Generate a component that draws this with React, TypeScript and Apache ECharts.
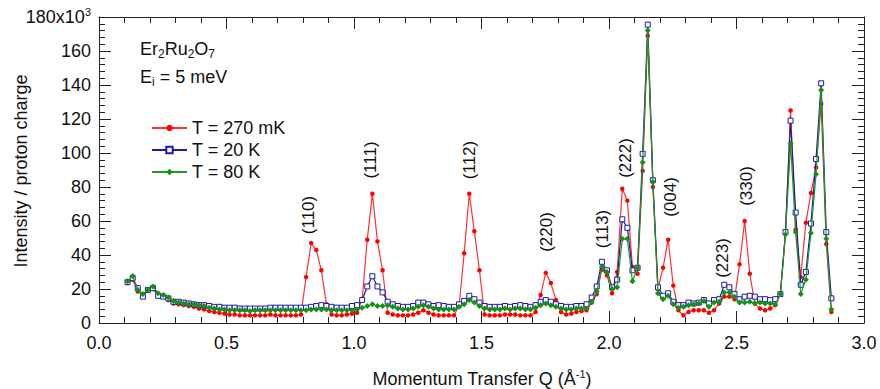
import React, { useEffect, useRef } from "react";
import * as echarts from "echarts";

// Momentum transfer grid (Å^-1)
const Q = [
  0.112, 0.132, 0.152, 0.172, 0.192, 0.212, 0.232, 0.252, 0.272, 0.292,
  0.312, 0.332, 0.352, 0.372, 0.392, 0.412, 0.432, 0.452, 0.472, 0.492,
  0.512, 0.532, 0.552, 0.572, 0.592, 0.612, 0.632, 0.652, 0.672, 0.692,
  0.712, 0.732, 0.752, 0.772, 0.792, 0.812, 0.832, 0.852, 0.872, 0.892,
  0.912, 0.932, 0.952, 0.972, 0.992, 1.012, 1.032, 1.052, 1.072, 1.092,
  1.112, 1.132, 1.152, 1.172, 1.192, 1.212, 1.232, 1.252, 1.272, 1.292,
  1.312, 1.332, 1.352, 1.372, 1.392, 1.412, 1.432, 1.452, 1.472, 1.492,
  1.512, 1.532, 1.552, 1.572, 1.592, 1.612, 1.632, 1.652, 1.672, 1.692,
  1.712, 1.732, 1.752, 1.772, 1.792, 1.812, 1.832, 1.852, 1.872, 1.892,
  1.912, 1.932, 1.952, 1.972, 1.992, 2.012, 2.032, 2.052, 2.072, 2.092,
  2.112, 2.132, 2.152, 2.172, 2.192, 2.212, 2.232, 2.252, 2.272, 2.292,
  2.312, 2.332, 2.352, 2.372, 2.392, 2.412, 2.432, 2.452, 2.472, 2.492,
  2.512, 2.532, 2.552, 2.572, 2.592, 2.612, 2.632, 2.652, 2.672, 2.692,
  2.712, 2.732, 2.752, 2.772, 2.792, 2.812, 2.832, 2.852, 2.872,
];

// Intensity / proton charge (x10^3)
const T270mK = [
  23.5, 25.5, 18.5, 17, 19, 20, 17, 15.5, 13.5, 11.5,
  11, 10.5, 10, 9.5, 8.5, 8, 7, 6.5, 6, 5.5,
  5, 5, 4.5, 4.5, 4.5, 4.5, 4.5, 4.5, 5, 4.5,
  4.5, 4.5, 4.5, 4.5, 5, 27, 47, 43, 31, 11,
  5, 4.5, 4.5, 5, 5.5, 6, 14, 49, 76, 48,
  31, 6, 5, 4.5, 4.5, 4.5, 5, 6, 7.5, 6,
  5, 4.5, 4.5, 4.5, 4.5, 10, 41, 76, 54, 31,
  5, 4.5, 4.5, 4.5, 5, 5, 5, 4.5, 4.5, 4.5,
  6.5, 16.5, 29.5, 23.5, 13.5, 6.5, 5, 5.5, 6.5, 7,
  7.5, 12, 17, 31.5, 28, 17.5, 30, 79, 72, 33,
  29, 89.5, 169, 80, 20, 32.5, 49, 22, 7.5, 4.5,
  6.5, 7.5, 7.5, 7.5, 6, 7.5, 11.5, 15.5, 15.5, 14,
  34.5, 60, 29, 11.5, 8.5, 7.5, 8.5, 10.5, 17, 52.5,
  125, 55, 27, 59, 76.5, 91.5, 129, 46.5, 6.5,
];

const T20K = [
  24, 26.5, 20.5, 15.5, 19.5, 20.5, 16, 15.5, 14.5, 12.5,
  12.5, 12, 11.5, 11, 10.5, 10.5, 10, 9.5, 9.5, 9,
  9, 9, 8.5, 8.5, 8.5, 8.5, 8.5, 8.5, 9, 9,
  9, 9, 9, 9, 9, 9, 9.5, 10, 10.5, 10,
  9.5, 9, 9, 9, 10, 10.5, 13.5, 21.5, 27.5, 21.5,
  18, 12.5, 11, 10, 9.5, 9.5, 10, 12, 12, 11,
  10, 10.5, 10, 9.5, 9.5, 11, 13, 16, 14, 12,
  10, 9.5, 9.5, 9.5, 10, 9.5, 10, 10.5, 10, 9.5,
  10.5, 12.5, 13.5, 12.5, 11, 10, 9.5, 9.5, 10, 10,
  11, 15, 21.5, 36, 31, 21, 25.5, 61, 56, 31,
  32.5, 99.5, 175.5, 84, 21, 16, 17.5, 12.5, 10.5, 10.5,
  12, 11.5, 12, 13.5, 11.5, 13.5, 14, 22.5, 21, 17,
  14, 15.5, 16, 15.5, 14, 14, 13.5, 14, 17, 53.5,
  119, 65, 22.5, 30, 58.5, 96.5, 141, 53.5, 14.5,
];

const T80K = [
  24.5, 27.6, 19.5, 17, 19.5, 21.5, 17.5, 16.5, 15, 13,
  12, 11.5, 11, 11, 10.5, 10, 9, 8.5, 8, 8,
  7.5, 7.5, 7.5, 7.5, 7, 7.5, 7.5, 7.5, 7.5, 7.5,
  7.5, 7.5, 7.5, 7.5, 7.5, 7.5, 8, 8, 8, 8,
  7.5, 7.5, 7.5, 7.5, 7.5, 8, 9, 10, 11, 10,
  10, 10.5, 9.5, 8.5, 8, 8, 8.5, 9.5, 10.5, 9.5,
  8.5, 8, 8, 8, 8, 9.5, 11, 13.5, 12, 10,
  8.5, 8, 8, 8, 8.5, 8, 8.5, 8.5, 8, 8,
  9, 10.5, 11.5, 10.5, 9.5, 8.5, 8, 8, 8.5, 8.5,
  8.5, 12.5, 18.5, 33, 30, 20, 21, 49.5, 49.5, 24.5,
  32.5, 94.5, 172, 83, 17.5, 14, 16, 11, 9, 9.5,
  10.5, 11, 11.5, 13, 9.5, 12, 12.5, 18, 18, 15.5,
  12, 12, 12.5, 11.5, 12, 11.5, 11.5, 11, 17, 52,
  105.5, 53.5, 17, 25.5, 53, 87.5, 137, 49.5, 8,
];

const SERIES_NAMES = ["T = 270 mK", "T = 20 K", "T = 80 K"];
const X_TICKS = [0, 0.5, 1, 1.5, 2, 2.5, 3];
const Y_TICKS = [0, 20, 40, 60, 80, 100, 120, 140, 160, 180];

// Bragg peak annotations: label, pixel centre
const PEAK_LABELS = ["(110)", "(111)", "(112)", "(220)", "(113)", "(222)", "(004)", "(223)", "(330)"];
const PEAK_POS: [number, number][] = [
  [308, 215], [370, 160], [469, 160], [546, 232], [602, 229],
  [625, 158], [670, 197], [722, 258], [746, 186],
];

const FONT = "'Liberation Sans', Arial, sans-serif";
const AX = "#222";

// fresh objects for every axis (ECharts mutates option objects)
const tickCfg = () => ({
  axisTick: { show: true, inside: true, length: 12, lineStyle: { color: AX, width: 1 } },
  minorTick: { show: true, splitNumber: 5, length: 6, lineStyle: { color: AX, width: 1 } },
  splitLine: { show: false },
});

export default function App() {
  const ref = useRef<HTMLDivElement>(null);
  useEffect(() => {
    document.body.style.margin = "0";
    const chart = echarts.init(ref.current!, null, { renderer: "svg" });
    const pts = (ys: number[]) => Q.map((q, i) => [q, ys[i]]);
    const xMin = X_TICKS[0];
    const xMax = X_TICKS[X_TICKS.length - 1];
    const yMin = Y_TICKS[0];
    const yMax = Y_TICKS[Y_TICKS.length - 1];
    const option: any = {
      animation: false,
      backgroundColor: "#fff",
      textStyle: { fontFamily: FONT },
      grid: { left: 99, right: 16, top: 17, bottom: 66 },
      xAxis: [
        {
          type: "value", min: xMin, max: xMax, interval: 0.5,
          ...tickCfg(),
          position: "bottom",
          axisLine: { show: true, lineStyle: { color: AX, width: 1 } },
          axisLabel: { formatter: (v: number) => v.toFixed(1), fontSize: 18, color: "#111", margin: 11, fontFamily: FONT },
        },
        {
          type: "value", min: xMin, max: xMax, interval: 0.5,
          ...tickCfg(),
          position: "top",
          axisLine: { show: true, onZero: false, lineStyle: { color: AX, width: 1 } },
          axisLabel: { show: false },
        },
      ],
      yAxis: [
        {
          type: "value", min: yMin, max: yMax, interval: 20,
          ...tickCfg(),
          position: "left",
          axisLine: { show: true, lineStyle: { color: AX, width: 1 } },
          axisLabel: {
            fontSize: 18,
            color: "#111",
            margin: 8,
            fontFamily: FONT,
            formatter: (v: number) => (v === 180 ? "{b|180x10}{s|3}" : String(v)),
            rich: {
              b: { fontSize: 18, color: "#111", fontFamily: FONT },
              s: { fontSize: 11, color: "#111", fontFamily: FONT, padding: [0, 0, 10, 0] },
            },
          },
        },
        {
          type: "value", min: yMin, max: yMax, interval: 20,
          ...tickCfg(),
          position: "right",
          axisLine: { show: true, onZero: false, lineStyle: { color: AX, width: 1 } },
          axisLabel: { show: false },
        },
      ],
      legend: {
        orient: "vertical",
        left: 146,
        top: 114,
        itemWidth: 35,
        itemHeight: 8,
        itemGap: 4,
        textStyle: { fontSize: 18, color: "#111", fontFamily: FONT, lineHeight: 18 },
        data: SERIES_NAMES,
      },
      series: [
        {
          name: SERIES_NAMES[0],
          type: "line",
          data: pts(T270mK),
          symbol: "circle",
          symbolSize: 4.5,
          lineStyle: { color: "#ff3030", width: 1.2 },
          itemStyle: { color: "#ff0000" },
          z: 2,
        },
        {
          name: SERIES_NAMES[1],
          type: "line",
          data: pts(T20K),
          symbol: "rect",
          symbolSize: 5,
          lineStyle: { color: "#1a1aa6", width: 1.2 },
          itemStyle: { color: "#ffffff", borderColor: "#1a1aa6", borderWidth: 1 },
          z: 3,
        },
        {
          name: SERIES_NAMES[2],
          type: "line",
          data: pts(T80K),
          symbol: "diamond",
          symbolSize: 6,
          lineStyle: { color: "#1e9a1e", width: 1.2 },
          itemStyle: { color: "#189018" },
          z: 4,
        },
      ],
      graphic: [
        {
          type: "text",
          left: 140,
          top: 40,
          style: {
            text: "Er{s|2}Ru{s|2}O{s|7}",
            fontSize: 18,
            fontFamily: FONT,
            fill: "#111",
            rich: { s: { fontSize: 12, fontFamily: FONT, fill: "#111", padding: [10, 0, 0, 0] } },
          },
        },
        {
          type: "text",
          left: 140,
          top: 68,
          style: {
            text: "E{s|i} = 5 meV",
            fontSize: 18,
            fontFamily: FONT,
            fill: "#111",
            rich: { s: { fontSize: 12, fontFamily: FONT, fill: "#111", padding: [10, 0, 0, 0] } },
          },
        },
        {
          type: "text",
          x: 21,
          y: 171,
          rotation: Math.PI / 2,
          style: { text: "Intensity / proton charge", fontSize: 18, fontFamily: FONT, fill: "#111", align: "center", verticalAlign: "middle" },
        },
        {
          type: "text",
          x: 482,
          y: 379,
          style: {
            text: "Momentum Transfer Q (Å{s|-1})",
            fontSize: 18,
            fontFamily: FONT,
            fill: "#111",
            align: "center",
            verticalAlign: "middle",
            rich: { s: { fontSize: 11, fontFamily: FONT, fill: "#111", padding: [0, 0, 10, 0] } },
          },
        },
        ...PEAK_LABELS.map((t, i) => ({
          type: "text",
          x: PEAK_POS[i][0],
          y: PEAK_POS[i][1],
          rotation: Math.PI / 2,
          style: { text: t, fontSize: 17, fontFamily: FONT, fill: "#111", align: "center", verticalAlign: "middle" },
        })),
      ],
    };
    chart.setOption(option);
    return () => chart.dispose();
  }, []);
  return <div ref={ref} style={{ width: 880, height: 389 }} />;
}
